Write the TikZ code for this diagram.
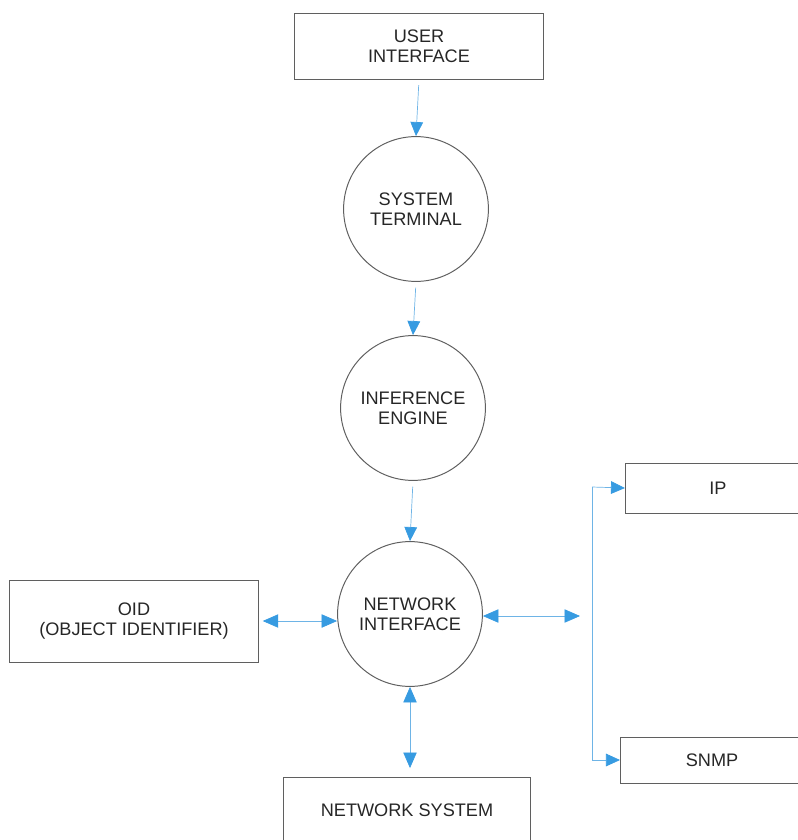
\documentclass[tikz,border=0pt]{standalone}
\usepackage{fontspec}
\setmainfont{Liberation Sans}
\usetikzlibrary{arrows.meta}
\definecolor{linkblue}{RGB}{110,180,230}
\definecolor{tipblue}{RGB}{55,155,225}
\definecolor{edgegray}{RGB}{95,95,95}
\begin{document}
\begin{tikzpicture}[x=0.025cm,y=-0.025cm,
  every node/.style={font=\fontsize{12.9}{14.2}\selectfont,align=center,text=black!85},
  box/.style={draw=edgegray,line width=0.7pt,rectangle,inner sep=0pt},
  bubble/.style={draw=edgegray,line width=0.7pt,circle,minimum size=3.62cm,inner sep=0pt},
  link/.style={draw=linkblue,line width=0.5pt,-{Triangle[length=10pt,width=9pt,fill=tipblue,color=tipblue]}},
  twolink/.style={draw=linkblue,line width=0.5pt,{Triangle[length=11pt,width=9.5pt,fill=tipblue,color=tipblue]}-{Triangle[length=11pt,width=9.5pt,fill=tipblue,color=tipblue]}}]

\useasboundingbox (0,0) rectangle (797,840);

%%%%%%%%%%%%%%%%%%%%%%%%%%%%%%%%%%%%%%%%%%%%%%%%%%%%%%%%%%%%%%%%%
\node [box,minimum width=6.2cm,minimum height=1.625cm] (ui) at (419,46.5) {USER\\INTERFACE};

\node [bubble] (term) at (416,209) {SYSTEM\\TERMINAL};
\draw [link,shorten <=4pt] (ui.south) -- (term.north);

\node [bubble] (infer) at (413,408) {INFERENCE\\ENGINE};
\draw [link,shorten <=4pt] (term.south) -- (infer.north);

\node [bubble] (netif) at (410,614) {NETWORK\\INTERFACE};
\draw [link,shorten <=4pt] (infer.south) -- (netif.north);


\node [box,minimum width=6.2cm,minimum height=2.05cm] (oid) at (134,621) {OID\\(OBJECT IDENTIFIER)};
\draw [twolink,shorten <=3pt]  (oid.east) -- (oid.east -| netif.west);

\node [box,minimum width=6.15cm,minimum height=1.65cm] (netsys) at (407,810) {NETWORK SYSTEM};
\draw [twolink,shorten >=6pt]  (netif.south) -- (netif.south |- netsys.north);


\coordinate (split) at (580,616);
\draw [twolink]  (netif.east |- split) -- (split);

\coordinate (bustop) at (592,487);
\coordinate (busbot) at (592,760);
\draw [draw=linkblue,line width=0.5pt] (bustop) -- (busbot);

\node [box,minimum width=5.2cm,minimum height=1.25cm,anchor=west] (ip) at (625,488) {};
\node (iptext) at (718,488) {IP};
\draw [link]  (bustop) -- (ip.west);

\node [box,minimum width=5.3cm,minimum height=1.15cm,anchor=west] (snmp) at (620,760) {};
\node (snmptext) at (712,760) {SNMP};
\draw [link]  (busbot) -- (snmp.west);

%%%%%%%%%%%%%%%%%%%%%%%%%%%%%%%%%%%%%%%%%%%%%%%%%%%%%%%%%%%%%%%%%
\end{tikzpicture}
\end{document}
